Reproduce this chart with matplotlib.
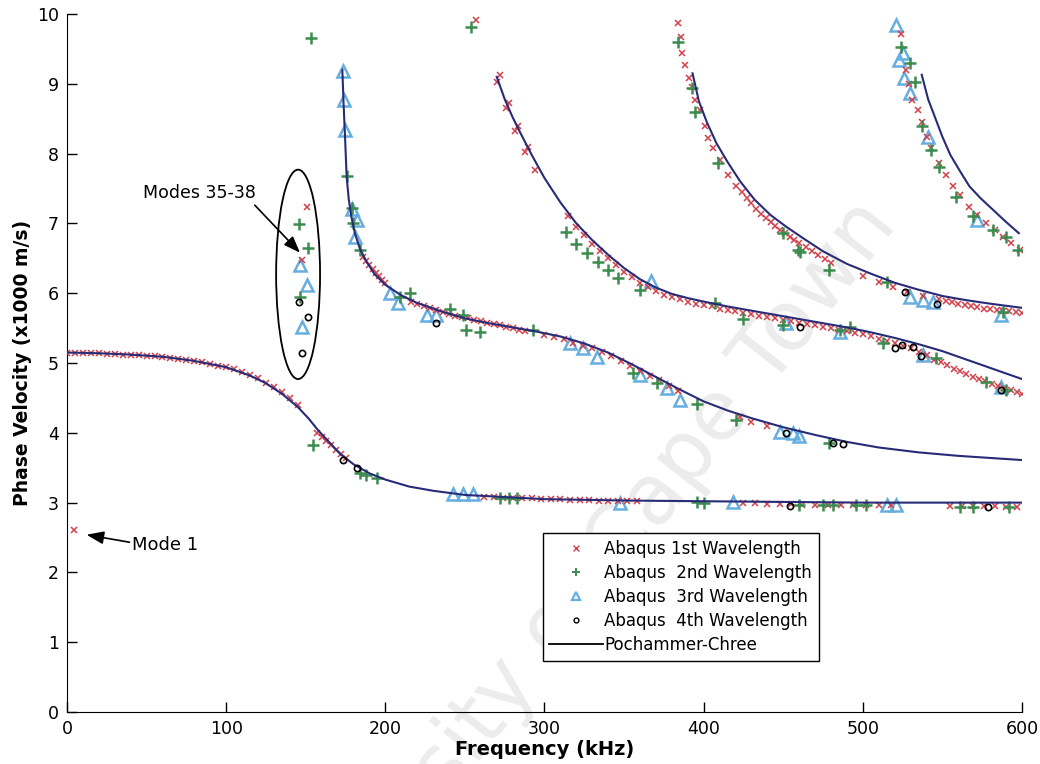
import matplotlib
matplotlib.use("Agg")
import matplotlib.pyplot as plt
from matplotlib.patches import Ellipse
from matplotlib.lines import Line2D

# Pochammer-Chree branches (frequency kHz, phase velocity x1000 m/s)
pc1_f = [0, 20, 40, 60, 80, 100, 115, 125, 135, 145, 152, 158, 165, 172, 180, 190, 200, 215, 230, 250, 275, 300, 350, 400, 450, 500, 550, 600]
pc1_v = [5.15, 5.14, 5.12, 5.09, 5.03, 4.94, 4.82, 4.71, 4.56, 4.37, 4.20, 4.03, 3.86, 3.69, 3.55, 3.42, 3.33, 3.23, 3.17, 3.11, 3.08, 3.05, 3.03, 3.02, 3.01, 3.00, 3.00, 3.00]

pc2_f = [173.0, 173.8, 174.6, 175.7, 177.0, 178.8, 181, 184, 188, 193, 200, 210, 220, 235, 250, 265, 280, 295, 310, 325, 340, 355, 370, 385, 400, 415, 430, 450, 470, 490, 510, 535, 560, 580, 600]
pc2_v = [9.20, 8.70, 8.29, 7.67, 7.35, 7.08, 6.85, 6.64, 6.46, 6.28, 6.12, 5.97, 5.86, 5.74, 5.64, 5.57, 5.51, 5.45, 5.38, 5.28, 5.15, 4.98, 4.80, 4.62, 4.45, 4.32, 4.21, 4.08, 3.97, 3.87, 3.79, 3.72, 3.67, 3.64, 3.61]

pc3_f = [270, 275, 280, 285, 292, 300, 310, 320, 330, 340, 350, 360, 370, 380, 390, 400, 415, 430, 445, 460, 475, 490, 505, 520, 535, 550, 565, 580, 600]
pc3_v = [9.10, 8.78, 8.52, 8.29, 7.98, 7.65, 7.30, 7.00, 6.76, 6.55, 6.36, 6.20, 6.08, 5.99, 5.93, 5.88, 5.81, 5.75, 5.69, 5.63, 5.57, 5.51, 5.44, 5.36, 5.27, 5.17, 5.05, 4.93, 4.77]

pc4_f = [393, 397, 402, 408, 415, 423, 432, 442, 452, 463, 475, 490, 505, 520, 535, 550, 565, 580, 600]
pc4_v = [9.15, 8.75, 8.45, 8.15, 7.88, 7.60, 7.34, 7.12, 6.95, 6.78, 6.60, 6.42, 6.28, 6.15, 6.05, 5.96, 5.90, 5.85, 5.79]

pc5_f = [537, 541, 546, 550, 555, 561, 567, 574, 582, 590, 598]
pc5_v = [9.13, 8.78, 8.48, 8.24, 7.98, 7.75, 7.53, 7.36, 7.19, 7.02, 6.86]

# Abaqus 1st wavelength
w1_f = [4.4,
        0, 5, 10, 15, 20, 25, 30, 35, 40, 45, 50, 55, 60, 65, 70, 75, 80, 85, 90, 95,
        100, 105, 110, 115, 120, 125, 130, 135, 140, 145, 157, 160, 163, 166, 169, 172, 175,
        150.6, 147.4,
        262, 268, 274, 280, 286, 292, 298, 304, 310, 316, 322, 328, 334, 340, 346, 352, 358,
        425, 432, 440, 448, 455, 462, 470, 478, 486, 494, 502, 510, 518,
        555, 562, 569, 576, 583, 590, 597,
        257,
        186, 188, 190, 192, 194, 196, 198, 200,
        216, 220, 224, 228, 232, 236, 240, 244, 248, 252, 256, 260, 264, 268, 272, 276, 280, 284, 288,
        300, 306, 312, 318, 324, 330, 336, 342, 348, 354, 360, 366, 372, 378, 384,
        423, 430, 440,
        272, 270, 278, 276, 283.4, 281.4, 289.6, 287.7, 294,
        315, 320, 325, 330, 335, 340, 345, 350, 355, 360, 365, 370, 375, 380, 385, 390,
        395, 400, 405, 410, 415, 420, 425, 430, 435, 440, 445, 450, 455, 460, 465, 470,
        475, 480, 485, 490, 495, 500, 505, 510, 515, 520, 525, 530, 535, 540,
        545, 549, 553, 557, 561, 565, 569, 573, 577, 581, 585, 589, 593, 597, 600,
        383.8, 386, 386.7, 388, 390.7, 392.4, 394.5, 397.6, 400.8, 402.8, 406, 410, 415, 420.6,
        424, 427, 430, 433, 436, 439, 442, 445, 448, 451, 454, 457, 460, 464, 468, 472, 476, 480,
        500, 510, 519, 528, 538,
        548, 552, 556, 560, 564, 568, 572, 576, 580, 584, 588, 592, 596, 600,
        524, 527, 529, 531, 534.7, 537, 540, 543, 548, 552, 556.7, 561, 567, 572, 577.6, 583, 588, 593, 598.6]
w1_v = [2.61,
        5.15, 5.15, 5.14, 5.14, 5.14, 5.13, 5.13, 5.12, 5.12, 5.11, 5.10, 5.10, 5.09, 5.07, 5.06, 5.04, 5.03, 5.01, 4.99, 4.96,
        4.94, 4.91, 4.87, 4.83, 4.78, 4.72, 4.66, 4.58, 4.50, 4.40, 4.00, 3.94, 3.88, 3.82, 3.76, 3.70, 3.64,
        7.24, 6.47,
        3.08, 3.08, 3.07, 3.07, 3.06, 3.06, 3.05, 3.05, 3.05, 3.04, 3.04, 3.04, 3.03, 3.03, 3.03, 3.03, 3.02,
        2.99, 2.99, 2.98, 2.98, 2.98, 2.97, 2.97, 2.97, 2.97, 2.97, 2.96, 2.96, 2.96,
        2.95, 2.95, 2.95, 2.95, 2.95, 2.94, 2.94,
        9.92,
        6.52, 6.46, 6.40, 6.34, 6.29, 6.24, 6.19, 6.14,
        5.88, 5.85, 5.82, 5.79, 5.76, 5.73, 5.70, 5.68, 5.66, 5.64, 5.62, 5.60, 5.58, 5.56, 5.54, 5.52, 5.50, 5.48, 5.46,
        5.40, 5.37, 5.34, 5.29, 5.25, 5.21, 5.16, 5.10, 5.03, 4.96, 4.89, 4.82, 4.75, 4.67, 4.60,
        4.23, 4.16, 4.10,
        9.13, 9.03, 8.72, 8.65, 8.39, 8.32, 8.10, 8.03, 7.77,
        7.10, 6.95, 6.83, 6.71, 6.60, 6.50, 6.40, 6.31, 6.23, 6.15, 6.09, 6.03, 5.98, 5.94, 5.91, 5.88,
        5.85, 5.83, 5.81, 5.78, 5.76, 5.74, 5.72, 5.70, 5.68, 5.66, 5.64, 5.62, 5.60, 5.58, 5.56, 5.54,
        5.52, 5.50, 5.48, 5.46, 5.43, 5.41, 5.38, 5.35, 5.32, 5.29, 5.25, 5.21, 5.16, 5.11,
        5.05, 5.01, 4.97, 4.92, 4.88, 4.84, 4.80, 4.77, 4.74, 4.70, 4.67, 4.64, 4.61, 4.58, 4.56,
        9.87, 9.67, 9.44, 9.27, 9.09, 8.96, 8.77, 8.62, 8.39, 8.22, 8.08, 7.91, 7.69, 7.53,
        7.45, 7.37, 7.29, 7.21, 7.14, 7.08, 7.02, 6.96, 6.91, 6.86, 6.81, 6.76, 6.72, 6.66, 6.60, 6.55, 6.49, 6.43,
        6.25, 6.16, 6.09, 6.02, 5.96,
        5.92, 5.89, 5.87, 5.85, 5.83, 5.81, 5.80, 5.78, 5.77, 5.76, 5.75, 5.74, 5.73, 5.72,
        9.71, 9.20, 9.00, 8.77, 8.62, 8.45, 8.24, 8.08, 7.86, 7.70, 7.53, 7.40, 7.24, 7.12, 7.00, 6.90, 6.81, 6.72, 6.62]

# Abaqus 2nd wavelength
w2_f = [154.7, 184, 188, 194.5,
        272, 278, 282.5, 395.5, 400, 460, 475, 481, 496, 502, 561, 569, 592,
        145.7, 151.6, 146.4,
        153, 254,
        175.7, 178.8, 179.8, 184, 209, 215.5, 240.6, 249, 251, 259.4, 292.7, 355.6, 370.4, 395.5, 420.6, 479,
        313.8, 320, 326.4, 333.5, 340, 346, 360, 407, 425, 450, 485.5, 492, 512.6, 546, 577.6, 590,
        384, 392.4, 394.5, 409, 450, 459, 460.4, 479, 515, 588,
        524, 529.5, 532.7, 537, 543, 548, 558.8, 569, 582, 590, 597.5]
w2_v = [3.82, 3.42, 3.40, 3.35,
        3.07, 3.07, 3.07, 3.01, 2.99, 2.96, 2.96, 2.96, 2.96, 2.96, 2.94, 2.94, 2.94,
        6.99, 6.65, 5.95,
        9.65, 9.82,
        7.68, 7.22, 7.00, 6.62, 5.95, 6.00, 5.78, 5.69, 5.48, 5.45, 5.47, 4.86, 4.71, 4.42, 4.18, 3.85,
        6.88, 6.71, 6.57, 6.45, 6.33, 6.22, 6.05, 5.86, 5.63, 5.54, 5.47, 5.52, 5.28, 5.07, 4.73, 4.61,
        9.60, 8.94, 8.60, 7.86, 6.86, 6.62, 6.59, 6.33, 6.16, 5.73,
        9.53, 9.30, 9.03, 8.39, 8.05, 7.81, 7.38, 7.10, 6.91, 6.81, 6.62]

# Abaqus 3rd wavelength
w3_f = [146.4, 151, 147.4,
        173.4, 174.2, 174.6, 178.8, 182, 181, 203, 208, 226, 232, 316, 324, 332.7, 360, 377, 385, 448, 456, 460,
        367, 452, 485.5, 538, 587,
        529.5, 538, 544, 587,
        242.5, 249, 255, 347.4, 418.6, 515, 521,
        521, 523, 525.4, 526, 529.5, 541, 572]
w3_v = [6.40, 6.12, 5.52,
        9.18, 8.77, 8.34, 7.21, 7.05, 6.80, 6.00, 5.86, 5.69, 5.69, 5.29, 5.21, 5.09, 4.83, 4.64, 4.47, 4.01, 4.00, 3.95,
        6.17, 5.57, 5.45, 5.11, 4.66,
        5.95, 5.90, 5.88, 5.69,
        3.12, 3.12, 3.12, 2.99, 3.01, 2.96, 2.96,
        9.84, 9.34, 9.44, 9.08, 8.87, 8.24, 7.05]

# Abaqus 4th wavelength
w4_f = [145.7, 151.4, 147.4,
        173.4, 182, 454, 578.5,
        232, 452, 481, 487.5,
        460.4, 520, 524.3, 531.5, 536.8, 587,
        526.4, 546.3]
w4_v = [5.88, 5.66, 5.14,
        3.61, 3.49, 2.95, 2.94,
        5.57, 4.00, 3.86, 3.84,
        5.52, 5.21, 5.26, 5.23, 5.10, 4.61,
        6.02, 5.84]

line_color = '#272b78'
red = '#d2404a'
green = '#3d8c4f'
blue = '#66aee0'

fig = plt.figure(figsize=(10.4, 7.64), dpi=100)
ax = fig.add_axes([0.0644, 0.068, 0.9183, 0.9137])
ax.set_facecolor('none')
ax.set_zorder(1)

# faint diagonal watermark behind the data, running off the bottom edge
fig.text(0.549, 0.207, 'University of Cape Town', fontsize=60, color='#ececec',
         rotation=52, ha='center', va='center', rotation_mode='anchor', zorder=0)

for f, v in [(pc1_f, pc1_v), (pc2_f, pc2_v), (pc3_f, pc3_v), (pc4_f, pc4_v), (pc5_f, pc5_v)]:
    ax.plot(f, v, color=line_color, lw=1.5, zorder=4)

ax.plot(w1_f, w1_v, 'x', color=red, ms=5, mew=1.1, zorder=3)
ax.plot(w2_f, w2_v, '+', color=green, ms=9, mew=1.8, zorder=3)
ax.plot(w3_f, w3_v, '^', mfc='none', mec=blue, ms=9, mew=1.8, zorder=2)
ax.plot(w4_f, w4_v, 'o', mfc='none', mec='black', ms=4.5, mew=1.2, zorder=5)

ax.add_patch(Ellipse((145.2, 6.27), 27.6, 3.0, fill=False, edgecolor='black', lw=1.3, zorder=5))

arrow = dict(arrowstyle='-|>,head_length=0.8,head_width=0.3', color='black', lw=1.2,
             shrinkA=0, shrinkB=0)
ax.annotate('Modes 35-38', xy=(146.4, 6.58), xytext=(83, 7.43), fontsize=12.5,
            ha='center', va='center', arrowprops=dict(arrow, relpos=(0.97, 0.0)))
ax.annotate('Mode 1', xy=(12.3, 2.54), xytext=(41, 2.40), fontsize=13,
            ha='left', va='center', arrowprops=dict(arrow, relpos=(0.0, 0.6)))

ax.set_xlim(0, 600)
ax.set_ylim(0, 10)
ax.set_xticks(range(0, 601, 100))
ax.set_yticks(range(0, 11))
ax.tick_params(direction='in', length=7, width=1, labelsize=12.5, pad=6)
ax.spines['top'].set_visible(False)
ax.spines['right'].set_visible(False)
ax.set_xlabel('Frequency (kHz)', fontsize=14, fontweight='bold', labelpad=1)
ax.set_ylabel('Phase Velocity (x1000 m/s)', fontsize=13.5, fontweight='bold', labelpad=3)

handles = [
    Line2D([], [], ls='none', marker='x', color=red, ms=4, mew=1),
    Line2D([], [], ls='none', marker='+', color=green, ms=6, mew=1.4),
    Line2D([], [], ls='none', marker='^', mfc='none', mec=blue, ms=6, mew=1.6),
    Line2D([], [], ls='none', marker='o', mfc='none', mec='black', ms=3.5, mew=1),
    Line2D([], [], color='black', lw=1.3),
]
labels = ['Abaqus 1st Wavelength', 'Abaqus  2nd Wavelength', 'Abaqus  3rd Wavelength',
          'Abaqus  4th Wavelength', 'Pochammer-Chree']
leg = ax.legend(handles, labels, loc='upper left', bbox_to_anchor=(0.498, 0.256),
                fontsize=12, frameon=True, fancybox=False, edgecolor='black',
                framealpha=1, handlelength=3.2, handletextpad=0.1, labelspacing=0.36,
                borderpad=0.4, borderaxespad=0)
leg.get_frame().set_linewidth(1.0)
leg.set_zorder(6)

fig.savefig('out.png', dpi=100)
